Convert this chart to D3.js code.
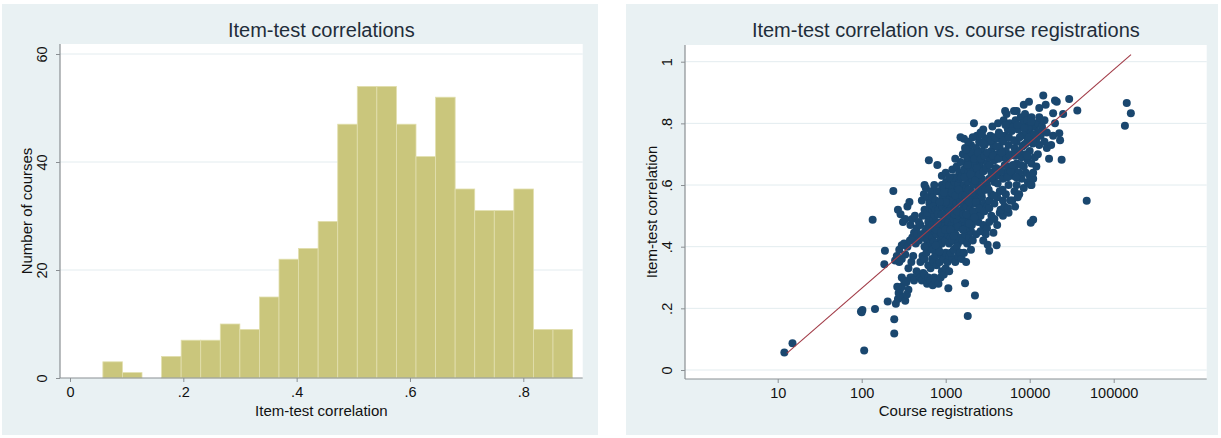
<!DOCTYPE html>
<html>
<head>
<meta charset="utf-8">
<script src="https://cdn.jsdelivr.net/npm/d3@7"></script>
<style>
  html, body { margin: 0; padding: 0; background: #ffffff; }
  svg { display: block; font-family: "Liberation Sans", Arial, Helvetica, sans-serif; }
</style>
</head>
<body>
<svg id="chart" width="1221" height="438"></svg>
<script>
// ---------------- DATA ----------------
// Histogram (left panel)
const histTitle = "Item-test correlations";
const histXLabel = "Item-test correlation";
const histYLabel = "Number of courses";
const binStart = 0.058;
const binWidth = 0.03454;
const binCounts = [3, 1, 0, 4, 7, 7, 10, 9, 15, 22, 24, 29, 47, 54, 54, 47, 41, 52, 35, 31, 31, 35, 9, 9];
const histXTicks = [0, 0.2, 0.4, 0.6, 0.8];
const histXTickLabels = ["0", ".2", ".4", ".6", ".8"];
const histYTicks = [0, 20, 40, 60];
const histYTickLabels = ["0", "20", "40", "60"];

// Scatter (right panel)
const scatTitle = "Item-test correlation vs. course registrations";
const scatXLabel = "Course registrations";
const scatYLabel = "Item-test correlation";
const scatXTicks = [10, 100, 1000, 10000, 100000];
const scatXTickLabels = ["10", "100", "1000", "10000", "100000"];
const scatYTicks = [0, 0.2, 0.4, 0.6, 0.8, 1];
const scatYTickLabels = ["0", ".2", ".4", ".6", ".8", "1"];
const fitRegs = [12.8, 160700];
const fitCorr = [0.054, 1.023];

const registrations = [
  12,15,107,98,102,100,144,204,244,244,186,189,135,238,1075,1700,1830,2230,3160,3300,4040,11000,10300,47700,136000,143000,160000,
  250,262,280,300,320,270,290,350,370,330,310,255,270,285,300,265,275,290,310,330,345,360,300,320,340,380,400,420,360,390,410,300,280,330,350,375,400,420,440,380,400,430,450,460,480,
  450,480,500,520,540,560,600,620,650,700,730,760,500,530,560,590,620,660,690,720,750,780,480,510,540,570,600,630,660,700,740,780,500,530,560,590,620,650,680,710,740,770,520,550,580,610,640,670,700,730,760,790,630,795,560,600,650,690,720,760,620,700,560,600,650,700,
  820,870,900,950,1000,1100,850,900,950,1000,1050,1100,1200,1300,1400,820,860,900,950,1000,1050,1100,1150,1200,1300,1400,1450,840,880,930,980,1030,1080,1130,1180,1250,1320,1380,1450,820,870,920,970,1020,1070,1120,1170,1230,1290,1350,1420,850,900,960,1010,1060,1110,1160,1220,1280,1340,1400,1460,900,1000,1200,1350,1450,850,1150,1250,1350,1480,
  1550,1650,1750,1600,1700,1800,1900,2000,2100,1550,1650,1750,1850,1950,2050,2150,2300,2450,2600,2800,1550,1650,1750,1850,1950,2050,2150,2250,2400,2550,2700,2900,1550,1650,1750,1850,1950,2050,2150,2250,2400,2550,2700,2900,1550,1650,1750,1850,1950,2050,2150,2250,2400,2550,2700,2900,1600,1700,1800,1900,2000,2100,2300,2500,2700,2900,1650,1850,2350,2600,2800,2950,1500,2170,2000,2300,2600,2800,
  3100,3300,3500,3800,4100,4400,4800,5200,5600,3100,3300,3500,3800,4100,4400,4800,5200,5600,3100,3300,3500,3800,4100,4400,4800,5200,5600,3100,3300,3500,3800,4100,4400,4800,5200,5600,3200,3400,3700,4000,4300,4700,5100,5500,3600,4200,4900,5300,5800,5100,4500,5000,5500,5900,3000,
  6200,6600,7000,7500,8000,8500,9000,9500,10000,10500,11000,6200,6600,7000,7500,8000,8500,9000,9500,10000,10500,11500,6200,6600,7000,7500,8000,8500,9000,9500,10000,10500,11500,6400,6800,7300,7800,8300,8800,9300,9800,10500,11500,7000,8500,9800,6500,10300,11000,12000,6700,7200,
  12500,13000,13500,14000,15000,16000,12500,13000,14000,15000,16000,14500,15500,13000,17000,18000,19000,20000,19000,20000,21000,22500,23000,24000,29500,36900,25000,12000,12500,
  720,760,810,840,880,910,940,990,1040,1090,1140,1190,1240,1270,1310,1370,1430,1480,1520,1580,1620,1680,1720,1780,1820,1880,1930,1980,2030,2080,2130,2190,2240,2290,2350,2420,2480,2530,2620,2680,2750,2820,2880,2960,
  3050,3150,3250,3350,3450,3550,3650,3750,3850,3950,4050,4150,4250,4350,4500,4650,4750,4900,5050,5150,5300,5450,5650,5800,5950,6100,6300,6500,6700,6900,7100,7300,7600,7900,8200,8600,9000,9400,9900,10400,10900,11400,
  1250,1400,1600,1900,2200,2500,2900,3300,3700,1000,1100,900,800,760,850,950,1500,1750,2100,1300,2700
];
const correlations = [
  0.057,0.087,0.063,0.19,0.195,0.187,0.198,0.222,0.165,0.118,0.343,0.387,0.487,0.581,0.265,0.281,0.175,0.242,0.406,0.387,0.405,0.487,0.478,0.549,0.792,0.866,0.833,
  0.355,0.37,0.39,0.405,0.41,0.52,0.505,0.53,0.545,0.49,0.48,0.215,0.23,0.26,0.27,0.27,0.25,0.24,0.235,0.225,0.245,0.26,0.3,0.29,0.285,0.3,0.3,0.29,0.33,0.35,0.37,0.36,0.35,0.375,0.4,0.42,0.43,0.445,0.41,0.47,0.49,0.5,0.46,0.44,0.48,
  0.32,0.31,0.3,0.29,0.315,0.31,0.28,0.3,0.29,0.275,0.3,0.29,0.35,0.37,0.36,0.38,0.34,0.33,0.36,0.35,0.37,0.34,0.42,0.44,0.43,0.45,0.42,0.44,0.41,0.43,0.45,0.44,0.47,0.5,0.52,0.5,0.48,0.5,0.47,0.49,0.5,0.48,0.55,0.57,0.59,0.56,0.54,0.58,0.56,0.6,0.55,0.58,0.68,0.665,0.6,0.51,0.525,0.52,0.53,0.52,0.4,0.39,0.4,0.46,0.46,0.47,
  0.28,0.3,0.32,0.31,0.33,0.32,0.35,0.37,0.36,0.38,0.35,0.37,0.36,0.35,0.37,0.4,0.42,0.41,0.43,0.42,0.44,0.41,0.43,0.42,0.44,0.41,0.43,0.46,0.48,0.47,0.49,0.46,0.48,0.5,0.47,0.49,0.46,0.48,0.5,0.52,0.54,0.53,0.55,0.52,0.54,0.56,0.53,0.55,0.52,0.54,0.56,0.58,0.6,0.59,0.61,0.58,0.6,0.62,0.59,0.61,0.58,0.6,0.62,0.63,0.64,0.65,0.66,0.64,0.45,0.38,0.39,0.4,0.38,
  0.36,0.38,0.35,0.42,0.44,0.41,0.43,0.45,0.42,0.47,0.49,0.46,0.48,0.5,0.47,0.49,0.51,0.48,0.5,0.47,0.52,0.54,0.53,0.55,0.52,0.56,0.54,0.57,0.55,0.53,0.56,0.54,0.58,0.6,0.59,0.61,0.58,0.62,0.6,0.63,0.61,0.59,0.62,0.6,0.63,0.65,0.67,0.64,0.66,0.68,0.65,0.67,0.69,0.66,0.68,0.65,0.7,0.72,0.69,0.71,0.73,0.7,0.72,0.74,0.71,0.73,0.75,0.74,0.76,0.77,0.78,0.75,0.755,0.8,0.39,0.44,0.45,0.42,
  0.46,0.48,0.5,0.49,0.47,0.51,0.5,0.52,0.51,0.53,0.55,0.57,0.54,0.56,0.58,0.55,0.57,0.6,0.6,0.62,0.64,0.61,0.63,0.65,0.62,0.64,0.66,0.67,0.69,0.71,0.68,0.7,0.72,0.69,0.71,0.73,0.74,0.76,0.73,0.75,0.77,0.74,0.76,0.78,0.79,0.8,0.81,0.83,0.8,0.84,0.52,0.53,0.525,0.55,0.44,
  0.55,0.58,0.6,0.57,0.62,0.59,0.64,0.61,0.63,0.6,0.62,0.63,0.65,0.67,0.64,0.69,0.66,0.7,0.68,0.71,0.67,0.69,0.7,0.72,0.74,0.71,0.76,0.73,0.77,0.75,0.78,0.76,0.79,0.79,0.81,0.78,0.82,0.8,0.83,0.81,0.79,0.82,0.8,0.84,0.86,0.87,0.84,0.6,0.64,0.66,0.53,0.56,
  0.7,0.73,0.76,0.78,0.74,0.72,0.8,0.82,0.79,0.81,0.77,0.89,0.86,0.85,0.685,0.73,0.76,0.8,0.833,0.874,0.87,0.768,0.745,0.682,0.879,0.842,0.83,0.75,0.77,
  0.415,0.455,0.505,0.385,0.445,0.565,0.505,0.455,0.575,0.515,0.455,0.575,0.625,0.505,0.565,0.515,0.585,0.545,0.625,0.565,0.505,0.625,0.565,0.505,0.665,0.585,0.545,0.635,0.705,0.575,0.515,0.685,0.615,0.545,0.655,0.705,0.585,0.635,0.685,0.575,0.735,0.645,0.695,0.585,
  0.655,0.705,0.585,0.665,0.745,0.625,0.695,0.565,0.755,0.655,0.725,0.605,0.685,0.765,0.645,0.705,0.585,0.745,0.665,0.795,0.685,0.625,0.755,0.695,0.645,0.775,0.665,0.745,0.695,0.625,0.795,0.705,0.755,0.665,0.725,0.785,0.735,0.695,0.755,0.805,0.735,0.765,
  0.435,0.465,0.455,0.475,0.495,0.525,0.515,0.525,0.445,0.545,0.625,0.505,0.475,0.405,0.545,0.575,0.675,0.715,0.755,0.685,0.765
];

// ---------------- STYLE ----------------
const panelBg = "#e9f1f3";
const gridColor = "#e3ecef";
const axisColor = "#8a8f93";
const barFill = "#cac67c";
const barStroke = "#e2dfae";
const dotColor = "#1a476f";
const fitColor = "#a23c48";
const titleColor = "#1f2d3a";
const textColor = "#111";

const svg = d3.select("#chart");

// Panel backgrounds
svg.append("rect").attr("x", 2).attr("y", 4).attr("width", 596).attr("height", 431).attr("fill", panelBg);
svg.append("rect").attr("x", 626).attr("y", 4).attr("width", 592).attr("height", 431).attr("fill", panelBg);

// ============ LEFT: HISTOGRAM ============
const L = { left: 60, right: 582.7, top: 44, bottom: 378 };
const hx = d3.scaleLinear().domain([0, 0.8]).range([70, 523.3]);
const hy = d3.scaleLinear().domain([0, 60]).range([378, 54]);

const gL = svg.append("g");
gL.append("rect").attr("x", L.left).attr("y", L.top).attr("width", L.right - L.left).attr("height", L.bottom - L.top).attr("fill", "#fff");

gL.selectAll("line.grid").data(histYTicks.filter(d => d > 0)).enter().append("line")
  .attr("x1", L.left).attr("x2", L.right).attr("y1", d => hy(d)).attr("y2", d => hy(d))
  .attr("stroke", gridColor).attr("stroke-width", 1);

const bins = binCounts.map((c, i) => ({ x0: binStart + i * binWidth, x1: binStart + (i + 1) * binWidth, c }));
gL.selectAll("rect.bar").data(bins.filter(b => b.c > 0)).enter().append("rect")
  .attr("x", d => hx(d.x0)).attr("width", d => hx(d.x1) - hx(d.x0))
  .attr("y", d => hy(d.c)).attr("height", d => hy(0) - hy(d.c))
  .attr("fill", barFill).attr("stroke", barStroke).attr("stroke-width", 0.8);

// axes
const hxAxis = d3.axisBottom(hx).tickValues(histXTicks).tickFormat((d, i) => histXTickLabels[i]).tickSize(4).tickPadding(5);
const gx = gL.append("g").attr("transform", `translate(0,${L.bottom})`).call(hxAxis);
gx.select(".domain").remove();
gx.append("line").attr("x1", L.left).attr("x2", L.right).attr("stroke", axisColor).attr("stroke-width", 1.2);
gx.selectAll(".tick line").attr("stroke", axisColor);
gx.selectAll(".tick text").attr("font-size", 14.5).attr("fill", textColor).attr("font-family", "Liberation Sans, Arial, sans-serif");

const hyAxis = d3.axisLeft(hy).tickValues(histYTicks).tickFormat((d, i) => histYTickLabels[i]).tickSize(4).tickPadding(0);
const gy = gL.append("g").attr("transform", `translate(${L.left},0)`).call(hyAxis);
gy.select(".domain").remove();
gy.append("line").attr("y1", L.top).attr("y2", L.bottom).attr("stroke", axisColor).attr("stroke-width", 1.2);
gy.selectAll(".tick line").attr("stroke", axisColor);
gy.selectAll(".tick text").attr("font-size", 14.5).attr("fill", textColor).attr("font-family", "Liberation Sans, Arial, sans-serif")
  .attr("text-anchor", "middle").attr("dy", 0).attr("x", 0)
  .attr("transform", "translate(-13,0) rotate(-90)");

gL.append("text").attr("x", (L.left + L.right) / 2).attr("y", 37).attr("text-anchor", "middle")
  .attr("font-size", 20).attr("fill", titleColor).text(histTitle);
gL.append("text").attr("x", (L.left + L.right) / 2).attr("y", 416).attr("text-anchor", "middle")
  .attr("font-size", 15).attr("fill", textColor).text(histXLabel);
gL.append("text").attr("transform", `translate(32,${(L.top + L.bottom) / 2}) rotate(-90)`).attr("text-anchor", "middle")
  .attr("font-size", 15).attr("fill", textColor).text(histYLabel);

// ============ RIGHT: SCATTER ============
const R = { left: 685, right: 1206.7, top: 45, bottom: 379 };
const sx = d3.scaleLog().domain([10, 100000]).range([777.7, 1113.7]);
const sy = d3.scaleLinear().domain([0, 1]).range([370, 61.7]);

const gR = svg.append("g");
gR.append("rect").attr("x", R.left).attr("y", R.top).attr("width", R.right - R.left).attr("height", R.bottom - R.top).attr("fill", "#fff");
gR.selectAll("line.grid").data(scatYTicks).enter().append("line")
  .attr("x1", R.left).attr("x2", R.right).attr("y1", d => sy(d)).attr("y2", d => sy(d))
  .attr("stroke", gridColor).attr("stroke-width", 1);

const pts = registrations.map((r, i) => ({ r, c: correlations[i] }));
gR.selectAll("circle.dot").data(pts).enter().append("circle")
  .attr("cx", d => sx(d.r)).attr("cy", d => sy(d.c)).attr("r", 4)
  .attr("fill", dotColor);

const fitPts = fitRegs.map((r, i) => [sx(r), sy(fitCorr[i])]);
gR.append("path").attr("d", d3.line()(fitPts)).attr("stroke", fitColor).attr("stroke-width", 1.1).attr("fill", "none");

const sxAxis = d3.axisBottom(sx).tickValues(scatXTicks).tickFormat((d, i) => scatXTickLabels[i]).tickSize(4).tickPadding(5);
const gsx = gR.append("g").attr("transform", `translate(0,${R.bottom})`).call(sxAxis);
gsx.select(".domain").remove();
gsx.append("line").attr("x1", R.left).attr("x2", R.right).attr("stroke", axisColor).attr("stroke-width", 1.2);
gsx.selectAll(".tick line").attr("stroke", axisColor);
gsx.selectAll(".tick text").attr("font-size", 14.5).attr("fill", textColor).attr("font-family", "Liberation Sans, Arial, sans-serif");

const syAxis = d3.axisLeft(sy).tickValues(scatYTicks).tickFormat((d, i) => scatYTickLabels[i]).tickSize(4).tickPadding(0);
const gsy = gR.append("g").attr("transform", `translate(${R.left},0)`).call(syAxis);
gsy.select(".domain").remove();
gsy.append("line").attr("y1", R.top).attr("y2", R.bottom).attr("stroke", axisColor).attr("stroke-width", 1.2);
gsy.selectAll(".tick line").attr("stroke", axisColor);
gsy.selectAll(".tick text").attr("font-size", 14.5).attr("fill", textColor).attr("font-family", "Liberation Sans, Arial, sans-serif")
  .attr("text-anchor", "middle").attr("dy", 0).attr("x", 0)
  .attr("transform", "translate(-13,0) rotate(-90)");

gR.append("text").attr("x", (R.left + R.right) / 2).attr("y", 37).attr("text-anchor", "middle")
  .attr("font-size", 20).attr("fill", titleColor).text(scatTitle);
gR.append("text").attr("x", (R.left + R.right) / 2).attr("y", 416).attr("text-anchor", "middle")
  .attr("font-size", 15).attr("fill", textColor).text(scatXLabel);
gR.append("text").attr("transform", `translate(657,${(R.top + R.bottom) / 2}) rotate(-90)`).attr("text-anchor", "middle")
  .attr("font-size", 15).attr("fill", textColor).text(scatYLabel);
</script>
</body>
</html>
